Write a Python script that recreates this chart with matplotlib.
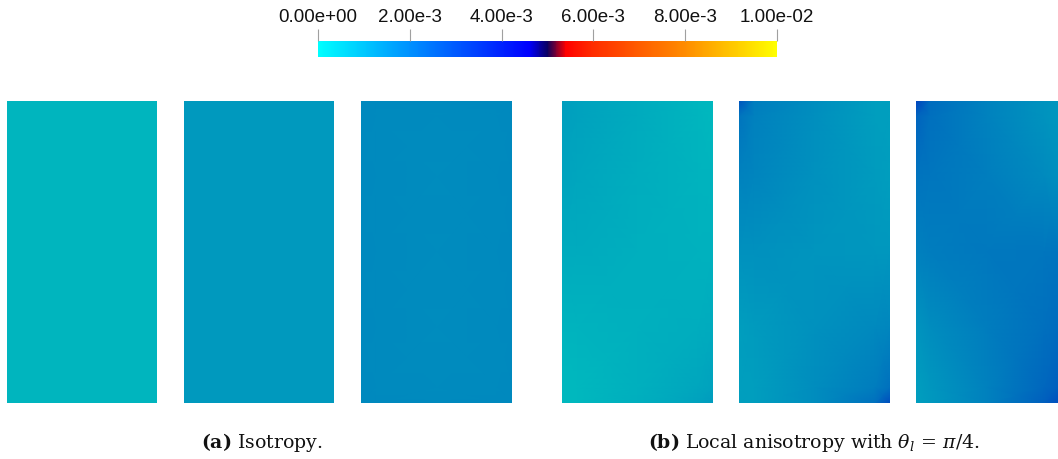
import numpy as np
import matplotlib
matplotlib.use("Agg")
import matplotlib.pyplot as plt
from matplotlib.colors import LinearSegmentedColormap, Normalize
from matplotlib.cm import ScalarMappable

plt.rcParams["mathtext.fontset"] = "dejavuserif"

# Colour map (position, RGB) used by the colour bar
cmap_nodes = [0.0, 0.46, 0.50, 0.54, 0.60, 0.80, 1.0]
cmap_rgb = [(0, 255, 255), (0, 0, 255), (10, 0, 95), (255, 0, 0),
            (255, 45, 0), (255, 140, 0), (255, 255, 0)]
shade = 0.745  # lit surfaces appear darker than the bar

vmin, vmax = 0.0, 1.0e-2
cbar_ticks = [0.0, 2e-3, 4e-3, 6e-3, 8e-3, 1e-2]
cbar_labels = ["0.00e+00", "2.00e-3", "4.00e-3", "6.00e-3", "8.00e-3", "1.00e-02"]

# Mesh nodes of every panel (normalised), rows listed from top to bottom
x_nodes = [0.0, 0.1, 0.5, 0.9, 1.0]
y_nodes = [1.0, 0.95, 0.75, 0.5, 0.25, 0.05, 0.0]

# Nodal values, in units of 1e-3
iso_1 = [[0.23] * 5] * 7
iso_2 = [[0.90] * 5] * 7
iso_3 = [[1.30, 1.27, 1.25, 1.27, 1.30],
         [1.28, 1.26, 1.24, 1.26, 1.28],
         [1.27, 1.25, 1.22, 1.25, 1.27],
         [1.27, 1.25, 1.23, 1.25, 1.27],
         [1.27, 1.25, 1.22, 1.25, 1.27],
         [1.28, 1.26, 1.24, 1.26, 1.28],
         [1.30, 1.27, 1.25, 1.27, 1.30]]
aniso_1 = [[0.80, 0.70, 0.45, 0.20, 0.15],
           [0.75, 0.68, 0.45, 0.22, 0.17],
           [0.65, 0.60, 0.42, 0.28, 0.25],
           [0.45, 0.45, 0.38, 0.32, 0.32],
           [0.25, 0.28, 0.35, 0.42, 0.45],
           [0.15, 0.17, 0.35, 0.60, 0.70],
           [0.15, 0.17, 0.38, 0.70, 0.85]]
aniso_2 = [[2.60, 1.60, 1.20, 0.80, 0.75],
           [1.80, 1.50, 1.15, 0.80, 0.75],
           [1.45, 1.40, 1.10, 0.85, 0.80],
           [1.10, 1.10, 1.00, 0.95, 0.95],
           [0.80, 0.85, 1.10, 1.30, 1.35],
           [0.75, 0.80, 1.20, 1.60, 1.90],
           [0.75, 0.80, 1.20, 1.90, 2.80]]
aniso_3 = [[3.00, 2.00, 1.45, 1.05, 0.95],
           [2.20, 1.90, 1.45, 1.05, 0.95],
           [1.80, 1.75, 1.55, 1.25, 1.15],
           [1.50, 1.60, 1.70, 1.75, 1.80],
           [1.00, 1.20, 1.60, 1.90, 2.00],
           [0.80, 0.95, 1.50, 2.10, 2.30],
           [0.75, 0.90, 1.50, 2.30, 2.70]]

fields = [iso_1, iso_2, iso_3, aniso_1, aniso_2, aniso_3]
captions = [(r"$\mathbf{(a)}$ Isotropy.", 262),
            (r"$\mathbf{(b)}$ Local anisotropy with $\theta_l\,=\,\pi/4$.", 814)]

W, H = 1058, 459
fig = plt.figure(figsize=(W / 100, H / 100), dpi=100)


def px_axes(x0, y0, w, h):
    return fig.add_axes([x0 / W, 1 - (y0 + h) / H, w / W, h / H])


bright = LinearSegmentedColormap.from_list(
    "bar", [(p, tuple(c / 255 for c in rgb)) for p, rgb in zip(cmap_nodes, cmap_rgb)], N=512)
dark = LinearSegmentedColormap.from_list(
    "lit", [(p, tuple(shade * c / 255 for c in rgb)) for p, rgb in zip(cmap_nodes, cmap_rgb)], N=512)
norm = Normalize(vmin, vmax)

X, Y = np.meshgrid(x_nodes, y_nodes)
panel_left = [7, 184, 361, 562, 739, 916]
panel_width = [150, 150, 151, 151, 151, 142]
for left, width, field in zip(panel_left, panel_width, fields):
    ax = px_axes(left, 101, width, 302)
    ax.pcolormesh(X, Y, np.array(field) * 1e-3, cmap=dark, norm=norm,
                  shading="gouraud", rasterized=True)
    ax.set_xlim(0, 1)
    ax.set_ylim(0, 1)
    ax.set_axis_off()

# Colour bar with labels above
cax = px_axes(318, 41, 459, 16)
cb = fig.colorbar(ScalarMappable(norm=norm, cmap=bright), cax=cax,
                  orientation="horizontal", ticks=cbar_ticks)
cb.outline.set_visible(False)
cax.xaxis.set_ticks_position("top")
cax.xaxis.set_label_position("top")
cax.set_xticklabels(cbar_labels, fontfamily="Liberation Sans", fontsize=13.5)
cax.tick_params(axis="x", length=8.5, width=0.8, color="#a0a0a0", pad=2.5, labelcolor="#111111")

for text, xc in captions:
    fig.text(xc / W, 1 - 442 / H, text, ha="center", va="center",
             fontfamily="DejaVu Serif", fontsize=13.6, color="#111111")

fig.savefig("out.png", dpi=100)
